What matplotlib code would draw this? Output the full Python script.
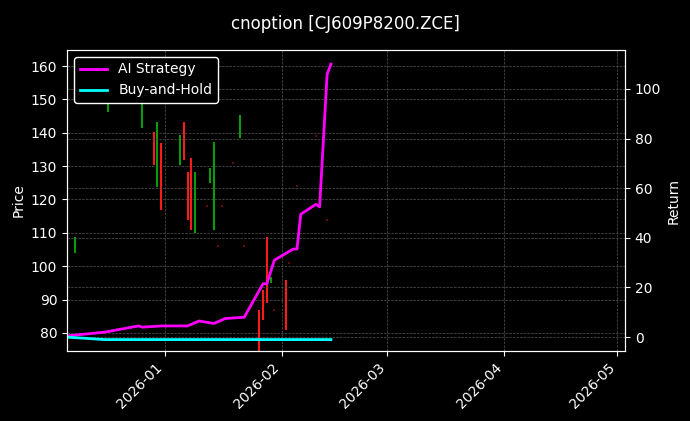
import numpy as np
import pandas as pd
import matplotlib
matplotlib.use('Agg')
import matplotlib.pyplot as plt
from matplotlib import dates as mdates

# price bars (high/low), colour by direction
bar_dates = ['2025-12-08', '2025-12-17', '2025-12-26', '2025-12-29', '2025-12-30', '2025-12-31',
             '2026-01-05', '2026-01-06', '2026-01-07', '2026-01-08', '2026-01-09', '2026-01-13',
             '2026-01-14', '2026-01-21', '2026-01-26', '2026-01-27', '2026-01-28', '2026-01-29',
             '2026-02-02', '2026-02-11']
bar_high = [108.8, 150.7, 149.8, 140.2, 143.2, 137.0, 139.3, 143.2, 128.3, 132.5, 128.3, 129.5,
            137.2, 145.3, 87.0, 93.0, 108.8, 96.8, 96.0, 120.8]
bar_low = [104.0, 146.2, 141.4, 130.4, 123.8, 116.9, 130.4, 131.9, 113.9, 110.9, 110.0, 125.0,
           110.9, 138.4, 74.0, 84.0, 89.0, 95.0, 81.0, 117.8]
bar_up = [1, 1, 1, 0, 1, 0, 1, 0, 0, 0, 1, 1, 1, 1, 0, 0, 0, 1, 0, 1]

# flat days (tiny marks)
dot_dates = ['2026-01-12', '2026-01-15', '2026-01-16', '2026-01-19', '2026-01-22', '2026-01-30',
             '2026-02-03', '2026-02-05', '2026-02-10', '2026-02-13']
dot_price = [118, 106, 118, 131, 106, 87, 101, 124, 139, 114]

# cumulative returns
ret_dates = ['2025-12-06', '2025-12-16', '2025-12-25', '2025-12-26', '2025-12-31', '2026-01-07',
             '2026-01-10', '2026-01-14', '2026-01-17', '2026-01-22', '2026-01-27', '2026-01-28',
             '2026-01-30', '2026-02-04', '2026-02-05', '2026-02-06', '2026-02-10', '2026-02-11',
             '2026-02-13', '2026-02-14']
ai_ret = [0.5, 2, 4.5, 4, 4.5, 4.5, 6.5, 5.5, 7.5, 8, 21.5, 21.5, 31, 35.5, 35.5, 49.5, 53.5,
          52.5, 106, 110]
bh_ret = [0, -1, -1, -1, -1, -1, -1, -1, -1, -1, -1, -1, -1, -1, -1, -1, -1, -1, -1, -1]

bg = '#000000'
fig = plt.figure(figsize=(6.9, 4.21), dpi=100, facecolor=bg)
ax1 = fig.add_axes([67/690, 70/421, 558/690, 301/421], facecolor=bg)

bd = pd.to_datetime(bar_dates)
cols = ['#0a9a0a' if u else '#ff1a1a' for u in bar_up]
ax1.vlines(bd, bar_low, bar_high, colors=cols, linewidth=1.5)
dd = pd.to_datetime(dot_dates)
ax1.vlines(dd, np.array(dot_price) - 0.3, np.array(dot_price) + 0.3, colors='#7a1010', linewidth=1.2)

ax1.set_ylim(74.6, 164.8)
ax1.set_xlim(pd.Timestamp('2025-12-06'), pd.Timestamp('2026-05-03'))
ax1.set_yticks([80, 90, 100, 110, 120, 130, 140, 150, 160])
ax1.set_ylabel('Price', color='w')
ax1.grid(True, color='#555555', linestyle='--', linewidth=0.5)
ax1.xaxis.set_major_locator(mdates.MonthLocator())
ax1.xaxis.set_major_formatter(mdates.DateFormatter('%Y-%m'))
for label in ax1.xaxis.get_ticklabels():
    label.set_rotation(45)
    label.set_ha('right')

ax2 = ax1.twinx()
rd = pd.to_datetime(ret_dates)
ax2.plot(rd, ai_ret, color='#ff00ff', linewidth=2, label='AI Strategy')
ax2.plot(rd, bh_ret, color='#00ffff', linewidth=2, label='Buy-and-Hold')
ax2.set_ylim(-5.6, 115.7)
ax2.set_yticks([0, 20, 40, 60, 80, 100])
ax2.set_ylabel('Return', color='w')
ax2.grid(True, color='#555555', linestyle='--', linewidth=0.5)

for ax in (ax1, ax2):
    for s in ax.spines.values():
        s.set_color('w')
    ax.tick_params(axis='both', colors='w')

leg = ax2.legend(loc='upper left', facecolor='black', edgecolor='w', labelcolor='w', framealpha=1)
fig.suptitle('cnoption [CJ609P8200.ZCE]', color='w', y=0.965, fontsize=12)

fig.savefig('out.png', dpi=100, facecolor=bg)
